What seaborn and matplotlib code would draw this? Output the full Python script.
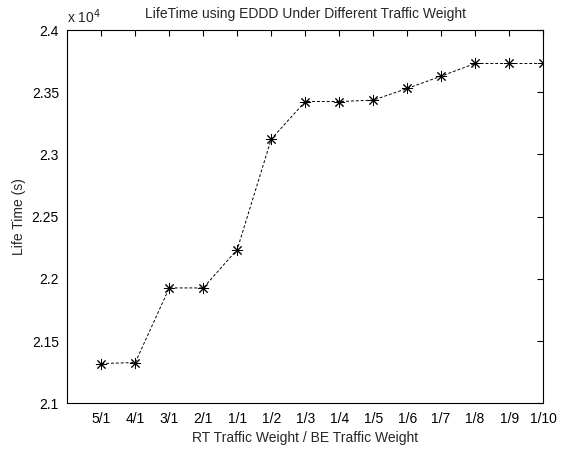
import numpy as np
import matplotlib
matplotlib.use('Agg')
import matplotlib.pyplot as plt
from matplotlib.ticker import FuncFormatter
import seaborn as sns

# traffic weight ratios (RT / BE) and measured lifetime in seconds
weights = ['5/1', '4/1', '3/1', '2/1', '1/1', '1/2', '1/3', '1/4', '1/5',
           '1/6', '1/7', '1/8', '1/9', '1/10']
lifetime = [21319, 21327, 21927, 21927, 22236, 23123, 23426, 23426, 23437,
            23531, 23630, 23732, 23732, 23732]

sns.set_style('white')
plt.rcParams['font.family'] = ['Liberation Sans', 'DejaVu Sans']

fig, ax = plt.subplots(figsize=(5.61, 4.5), dpi=100)
pos = np.arange(1, len(weights) + 1)
# (8, 2, 0) = asterisk marker like matlab's '*'
sns.lineplot(x=pos, y=lifetime, ax=ax, color='black', linestyle=(0, (3, 2)),
             linewidth=0.7, marker=(8, 2, 0), markersize=8,
             markeredgewidth=0.7, markeredgecolor='black')

ax.set_xlim(0, 14)
ax.set_ylim(21000, 24000)
ax.set_xticks(pos)
ax.set_xticklabels(weights)
ax.set_yticks(np.arange(21000, 24001, 500))
ax.yaxis.set_major_formatter(FuncFormatter(lambda v, p: f'{v / 1e4:g}'))
ax.tick_params(direction='in', top=True, right=True, length=4, width=0.8,
               labelsize=10, colors='black', pad=6)
for s in ax.spines.values():
    s.set_color('black')
    s.set_linewidth(0.8)

ax.set_title('LifeTime using EDDD Under Different Traffic Weight', fontsize=10, pad=9)
ax.set_xlabel('RT Traffic Weight / BE Traffic Weight', fontsize=10)
ax.set_ylabel('Life Time (s)', fontsize=10)
ax.text(0.0, 1.012, r'x 10$^4$', transform=ax.transAxes, fontsize=10, va='bottom')

fig.subplots_adjust(left=0.12, right=0.968, top=0.933, bottom=0.104)
fig.savefig('out.png')
